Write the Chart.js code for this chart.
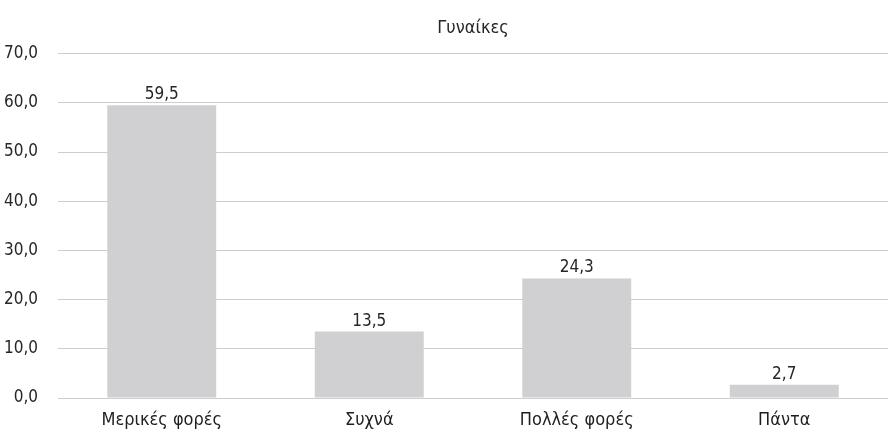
<!DOCTYPE html>
<html>
<head>
<meta charset="utf-8">
<script src="https://cdn.jsdelivr.net/npm/chart.js@4/dist/chart.umd.min.js"></script>
<style>
  html, body { margin: 0; padding: 0; background: #fff; }
  #wrap { width: 888px; height: 434px; position: relative; }
</style>
</head>
<body>
<div id="wrap"><canvas id="c"></canvas></div>
<script>
const categories = ['Μερικές φορές', 'Συχνά', 'Πολλές φορές', 'Πάντα'];
const values = [59.5, 13.5, 24.3, 2.7];
const yTicks = [0, 10, 20, 30, 40, 50, 60, 70];
const title = 'Γυναίκες';

const FONT = '"Liberation Sans Narrow", "DejaVu Sans Condensed", "Roboto", sans-serif';
const TEXT = '#262626';
const fmt = v => v.toFixed(1).replace('.', ',');

// Value labels drawn above each bar
const valueLabels = {
  id: 'valueLabels',
  afterDatasetsDraw(chart) {
    const ctx = chart.ctx;
    const meta = chart.getDatasetMeta(0);
    ctx.save();
    ctx.font = '17px ' + FONT;
    ctx.fillStyle = TEXT;
    ctx.textAlign = 'center';
    ctx.textBaseline = 'bottom';
    meta.data.forEach((bar, i) => {
      ctx.fillText(fmt(values[i]), bar.x, bar.y - 2);
    });
    ctx.restore();
  }
};

new Chart(document.getElementById('c'), {
  type: 'bar',
  data: {
    labels: categories,
    datasets: [{
      data: values,
      backgroundColor: '#d0d0d2',
      borderWidth: 0,
      categoryPercentage: 1.0,
      barPercentage: 0.525
    }]
  },
  options: {
    responsive: true,
    maintainAspectRatio: false,
    animation: false,
    layout: { padding: { left: 0, right: 0, top: 6, bottom: 0 } },
    plugins: {
      legend: { display: false },
      tooltip: { enabled: false },
      title: {
        display: true,
        fullSize: false,
        text: title,
        color: TEXT,
        font: { family: FONT, size: 18, weight: 'normal' },
        padding: { top: 12, bottom: 14 }
      }
    },
    scales: {
      x: {
        grid: { display: false, drawTicks: false },
        border: { display: false },
        afterFit(axis) { axis.height = 36; },
        ticks: {
          color: '#1e1e1e',
          font: { family: FONT, size: 18 },
          padding: 12
        }
      },
      y: {
        min: 0,
        max: 70,
        afterBuildTicks(axis) { axis.ticks = yTicks.map(v => ({ value: v })); },
        afterFit(axis) { axis.width = 58; },
        grid: { color: '#cdcdcd', lineWidth: 1, drawTicks: false },
        border: { display: false },
        ticks: {
          color: TEXT,
          font: { family: FONT, size: 17 },
          padding: 20,
          callback: v => fmt(v)
        }
      }
    }
  },
  plugins: [valueLabels]
});
</script>
</body>
</html>
